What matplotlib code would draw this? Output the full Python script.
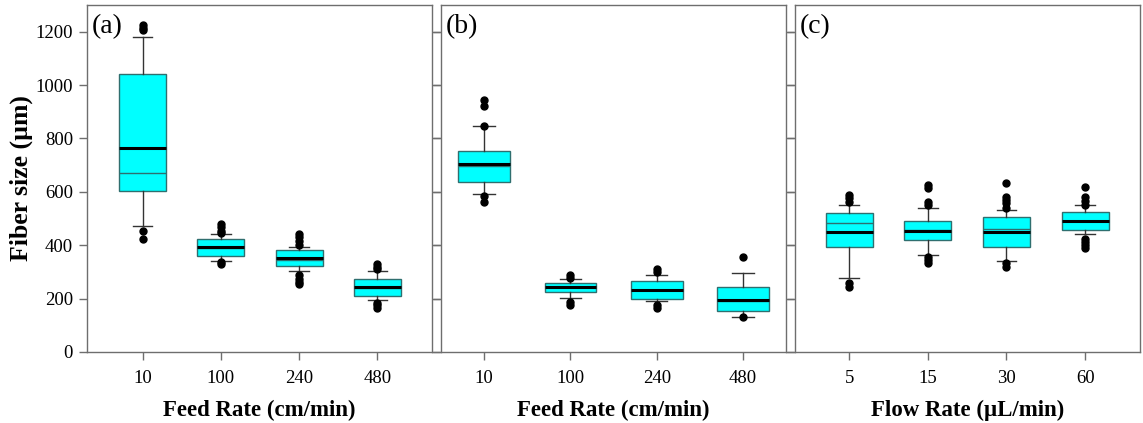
import matplotlib
matplotlib.use("Agg")
import matplotlib.pyplot as plt

plt.rcParams["font.family"] = ["Liberation Serif", "DejaVu Serif"]

# ---- data (fiber size, um) ----
labels_a = ["10", "100", "240", "480"]
labels_b = ["10", "100", "240", "480"]
labels_c = ["5", "15", "30", "60"]

# panel (a): feed rate
q1_a = [602, 358, 323, 208]
q3_a = [1040, 423, 382, 274]
thin_a = [672, 390, 345, 238]
thick_a = [764, 392, 351, 244]
lo_a = [471, 342, 304, 194]
hi_a = [1181, 442, 394, 303]
fliers_a = [
    [1226, 1215, 1208, 454, 422],
    [478, 467, 455, 446, 338, 330],
    [442, 430, 415, 400, 290, 275, 262, 255],
    [330, 320, 310, 185, 175, 165],
]

# panel (b): feed rate
q1_b = [636, 223, 198, 153]
q3_b = [754, 260, 265, 242]
thin_b = [698, 242, 232, 192]
thick_b = [705, 244, 234, 194]
lo_b = [592, 204, 190, 131]
hi_b = [845, 272, 288, 297]
fliers_b = [
    [945, 920, 848, 584, 561],
    [288, 276, 188, 176],
    [312, 300, 175, 163],
    [357, 131],
]

# panel (c): flow rate
q1_c = [394, 421, 394, 458]
q3_c = [522, 491, 505, 524]
thin_c = [482, 456, 462, 489]
thick_c = [448, 454, 448, 491]
lo_c = [278, 362, 342, 441]
hi_c = [550, 538, 532, 550]
fliers_c = [
    [588, 576, 563, 259, 242],
    [626, 613, 563, 551, 357, 345, 333],
    [632, 582, 570, 557, 538, 332, 320],
    [619, 582, 564, 551, 425, 413, 400, 388],
]

panels = [
    ("(a)", labels_a, q1_a, q3_a, thin_a, thick_a, lo_a, hi_a, fliers_a,
     "Feed Rate (cm/min)", (-0.71, 3.7)),
    ("(b)", labels_b, q1_b, q3_b, thin_b, thick_b, lo_b, hi_b, fliers_b,
     "Feed Rate (cm/min)", (-0.5, 3.5)),
    ("(c)", labels_c, q1_c, q3_c, thin_c, thick_c, lo_c, hi_c, fliers_c,
     "Flow Rate (\u00b5L/min)", (-0.69, 3.7)),
]

fig = plt.figure(figsize=(11.43, 4.23), dpi=100)
lefts = [0.0761, 0.3858, 0.6955]
frame = "#6e6e6e"

for i, (tag, labels, q1, q3, thin, thick, lo, hi, fl, xlab, xlim) in enumerate(panels):
    ax = fig.add_axes([lefts[i], 0.168, 0.302, 0.820])
    stats = []
    for k in range(len(labels)):
        stats.append({
            "q1": q1[k], "q3": q3[k], "med": thin[k], "mean": thick[k],
            "whislo": lo[k], "whishi": hi[k], "fliers": fl[k],
        })
    ax.bxp(stats, positions=range(len(labels)), widths=0.6, capwidths=0.25,
           patch_artist=True, showmeans=True, meanline=True,
           boxprops=dict(facecolor="#00ffff", edgecolor="#2f6f6f", linewidth=1.0),
           medianprops=dict(color="#2f6f6f", linewidth=1.0),
           meanprops=dict(color="black", linestyle="-", linewidth=2.2),
           whiskerprops=dict(color="#333333", linewidth=1.0),
           capprops=dict(color="#333333", linewidth=1.0),
           flierprops=dict(marker="o", markerfacecolor="black",
                           markeredgecolor="black", markersize=5))
    ax.set_xlim(*xlim)
    ax.set_ylim(0, 1300)
    ax.set_yticks(range(0, 1201, 200))
    ax.set_xticks(range(len(labels)))
    ax.set_xticklabels(labels, fontsize=13.5)
    ax.tick_params(direction="out", length=6, color=frame, width=1, pad=7)
    if i == 0:
        ax.tick_params(axis="y", labelsize=13.5, right=True, pad=4)
        ax.set_ylabel("Fiber size (\u00b5m)", fontsize=18.5, fontweight="bold")
        ax.yaxis.set_label_coords(-0.155, 0.5)
    else:
        ax.tick_params(axis="y", labelleft=False, right=(i == 1))
    for s in ax.spines.values():
        s.set_color(frame)
        s.set_linewidth(1.0)
    ax.set_xlabel(xlab, fontsize=16.5, fontweight="bold", labelpad=9)
    ax.text(0.015, 0.975, tag, transform=ax.transAxes, fontsize=20, va="top", ha="left")

fig.savefig("out.png", dpi=100)
